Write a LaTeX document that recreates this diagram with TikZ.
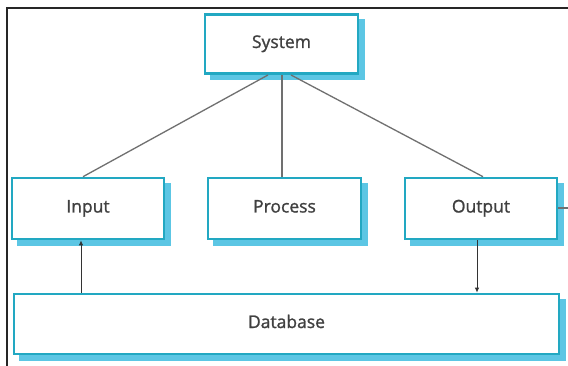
\documentclass[tikz,border=0pt]{standalone}
\usepackage{fontspec}
\setmainfont{Open Sans}
\newfontfamily\boxfont{Open Sans}[FakeBold=1.2, AutoFakeBold=1.2]
\usetikzlibrary{arrows.meta}
\definecolor{boxedge}{HTML}{22A8C2}
\definecolor{boxshadow}{HTML}{5CC6E4}
\definecolor{linegray}{HTML}{707070}
\tikzset{
  sysbox/.style={draw=boxedge, line width=2.6pt, fill=white, rectangle, inner sep=0pt,
    font=\boxfont\fontsize{17.5}{20}\selectfont, text=black!75, text height=12pt, text depth=4pt},
  shadowbox/.style={fill=boxshadow, draw=none},
  link/.style={draw=linegray, line width=1.3pt},
  flow/.style={draw=black!80, line width=0.9pt, -{Latex[length=5pt,width=4.5pt]}},
  frame/.style={draw=black!85, line width=2pt}
}
\begin{document}
\begin{tikzpicture}[x=1pt,y=-1pt]
\useasboundingbox (0,0) rectangle (568,366);
\fill[white] (0,0) rectangle (568,366);
% frame
\draw[frame] (7,366) -- (7,8) -- (568,8);
% shadows
\fill[shadowbox] (210,19) rectangle (365,80);
\fill[shadowbox] (17,183) rectangle (171,246);
\fill[shadowbox] (213,183) rectangle (368,246);
\fill[shadowbox] (410,183) rectangle (564,246);
\fill[shadowbox] (19,299) rectangle (566,361);
% boxes
\node[sysbox, minimum width=153pt, minimum height=59pt] (system) at (281.5,44) {System};
\node[sysbox, minimum width=152pt, minimum height=61pt] (input) at (88,208.5) {Input};
\node[sysbox, minimum width=153pt, minimum height=61pt] (process) at (284.5,208.5) {Process};
\node[sysbox, minimum width=152pt, minimum height=61pt] (output) at (481,208.5) {Output};
\node[sysbox, minimum width=545pt, minimum height=60pt] (database) at (286.5,324) {Database};
% connectors
\coordinate (sysL) at (268,75);
\coordinate (sysM) at (282,75);
\coordinate (sysR) at (291,75);
\draw[link] (sysL) -- (input.north -| 83,0);
\draw[link] (sysM) -- (process.north -| 282,0);
\draw[link] (sysR) -- (output.north -| 483,0);
\coordinate (outR) at (568,208);
\draw[link] (output.east |- outR) -- (outR);
\draw[flow] (database.north -| 81,0) -- (input.south -| 81,0);
\draw[flow] (output.south -| 477,0) -- (database.north -| 477,0);
\end{tikzpicture}
\end{document}
